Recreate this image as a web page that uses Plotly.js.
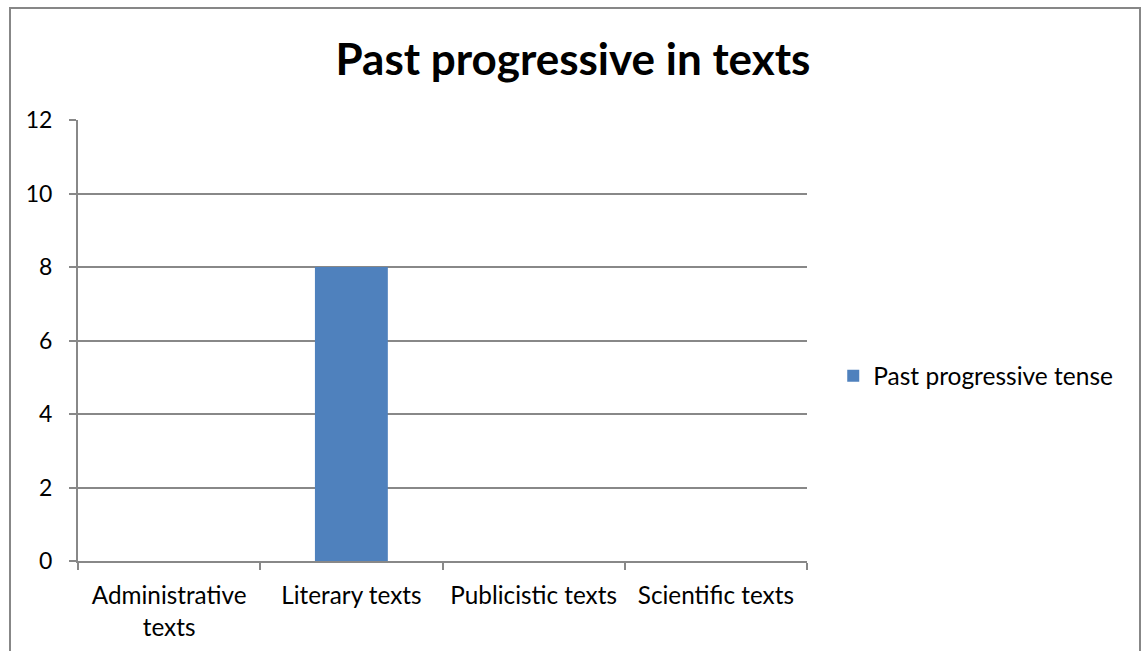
<!DOCTYPE html>
<html>
<head>
<meta charset="utf-8">
<script src="https://cdn.plot.ly/plotly-3.0.1.min.js"></script>
<style>
html,body{margin:0;padding:0;background:#fff;}
#wrap{position:relative;width:1146px;height:651px;overflow:hidden;}
#chart{position:absolute;left:0;top:0;width:1146px;height:651px;}
#frame{position:absolute;left:9px;top:7px;width:1128px;height:700px;border:2px solid #878787;pointer-events:none;}
</style>
</head>
<body>
<div id="wrap"><div id="chart"></div><div id="frame"></div></div>
<script>
const categories = ["Administrative texts", "Literary texts", "Publicistic texts", "Scientific texts"];
const tickLabels = ["Administrative<br>texts", "Literary texts", "Publicistic texts", "Scientific texts"];
const seriesName = "Past progressive tense";
const values = [0, 8, 0, 0];
const yTicks = [0, 2, 4, 6, 8, 10, 12];

const font = "Lato, 'Open Sans', sans-serif";
const trace = {
  type: "bar",
  x: categories,
  y: values,
  name: seriesName,
  marker: {color: "#4f81bd"},
  showlegend: true,
  hoverinfo: "none"
};
const layout = {
  width: 1146, height: 651,
  margin: {l: 78, r: 339, t: 120, b: 90},
  paper_bgcolor: "#fff", plot_bgcolor: "#fff",
  font: {family: font, size: 23, color: "#000"},
  title: {text: "<b>Past progressive in texts</b>", font: {family: font, size: 44, color: "#000"}, x: 0.5, xanchor: "center", xref: "container", y: 0.908, yanchor: "middle"},
  bargap: 0.6,
  showlegend: true,
  legend: {x: 1.036, xanchor: "left", y: 0.42, yanchor: "middle", font: {family: font, size: 24.5}, itemwidth: 30, traceorder: "normal"},
  xaxis: {
    type: "category",
    tickvals: categories, ticktext: tickLabels,
    tickson: "boundaries", ticks: "outside", ticklen: 7, tickcolor: "#888888", tickwidth: 2,
    showline: true, linecolor: "#888888", linewidth: 2,
    showgrid: false, zeroline: false, ticklabelstandoff: 12,
    tickfont: {family: font, size: 24.3}
  },
  yaxis: {
    range: [0, 12], tickvals: yTicks,
    ticks: "outside", ticklen: 7, tickcolor: "#888888", tickwidth: 2,
    showline: true, linecolor: "#888888", linewidth: 2,
    showgrid: true, gridcolor: "#888888", gridwidth: 2,
    zeroline: false, ticklabelstandoff: 12,
    tickfont: {family: font, size: 23}
  }
};
Plotly.newPlot("chart", [trace], layout, {staticPlot: true, displayModeBar: false});
</script>
</body>
</html>
